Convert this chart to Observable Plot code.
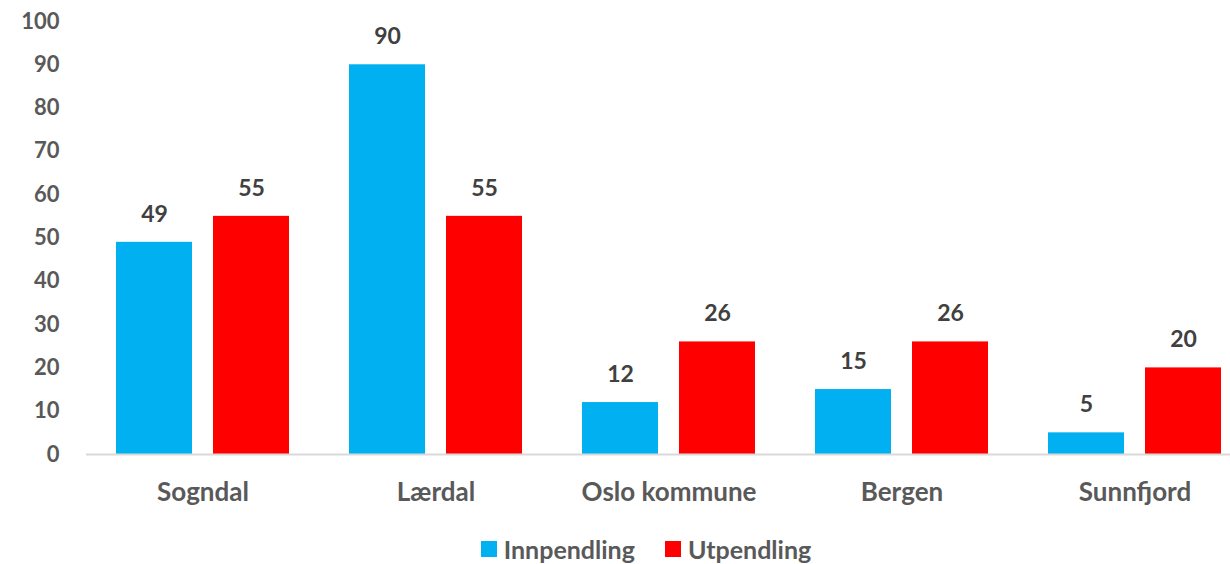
<!DOCTYPE html>
<html>
<head>
<meta charset="utf-8">
<script src="https://cdn.jsdelivr.net/npm/d3@7"></script>
<script src="https://cdn.jsdelivr.net/npm/@observablehq/plot@0.6"></script>
<style>
  html, body { margin: 0; padding: 0; background: #fff; }
  body { width: 1230px; height: 564px; overflow: hidden; font-family: Lato, "Open Sans", sans-serif; }
  #chart svg { overflow: visible; display: block; }
  .legend { display: flex; justify-content: center; gap: 30px; margin-top: 6px; padding-left: 62px;
            font: bold 25px Lato, sans-serif; color: #595959; line-height: 30px; }
  .legend span.item { display: flex; align-items: center; }
  .legend span.sw { display: inline-block; width: 16px; height: 16px; margin-right: 7px; }
</style>
</head>
<body>
<div id="chart"></div>
<div class="legend" id="legend"></div>
<script>
const categories = ["Sogndal", "Lærdal", "Oslo kommune", "Bergen", "Sunnfjord"];
const seriesNames = ["Innpendling", "Utpendling"];
const innpendling = [49, 90, 12, 15, 5];
const utpendling = [55, 55, 26, 26, 20];
const seriesColors = ["#00B0F0", "#FF0000"];
const yTicks = [0, 10, 20, 30, 40, 50, 60, 70, 80, 90, 100];

const data = [];
categories.forEach((c, i) => {
  data.push({category: c, series: seriesNames[0], value: innpendling[i]});
  data.push({category: c, series: seriesNames[1], value: utpendling[i]});
});

const chart = Plot.plot({
  width: 1230,
  height: 528,
  marginLeft: 86,
  marginRight: 0,
  marginTop: 21,
  marginBottom: 74,
  style: {fontFamily: "Lato, sans-serif", fontWeight: "bold", fontSize: "22px", color: "#595959", background: "#fff"},
  fx: {domain: categories, range: [85.5, 1250.5], paddingInner: 0, paddingOuter: 0, label: null},
  x: {domain: seriesNames, paddingInner: 0.214, paddingOuter: 0.296, axis: null},
  y: {domain: [0, 100], ticks: yTicks, label: null},
  color: {domain: seriesNames, range: seriesColors},
  marks: [
    Plot.axisY({ticks: yTicks, tickSize: 0, tickPadding: 27, label: null, fill: "#595959", fontSize: 22}),
    Plot.axisFx({anchor: "bottom", tickSize: 0, tickPadding: 28, label: null, fill: "#595959", fontSize: 26}),
    Plot.barY(data, {fx: "category", x: "series", y: "value", fill: "series"}),
    Plot.ruleY([0], {stroke: "#d9d9d9", strokeWidth: 2}),
    Plot.text(data, {fx: "category", x: "series", y: "value", text: d => String(d.value), dy: -28,
      fill: "#404040", fontSize: 23, fontWeight: "bold"})
  ]
});
document.getElementById("chart").appendChild(chart);

const legend = document.getElementById("legend");
seriesNames.forEach((s, i) => {
  const item = document.createElement("span");
  item.className = "item";
  const sw = document.createElement("span");
  sw.className = "sw";
  sw.style.background = seriesColors[i];
  item.appendChild(sw);
  item.appendChild(document.createTextNode(s));
  legend.appendChild(item);
});
</script>
</body>
</html>
